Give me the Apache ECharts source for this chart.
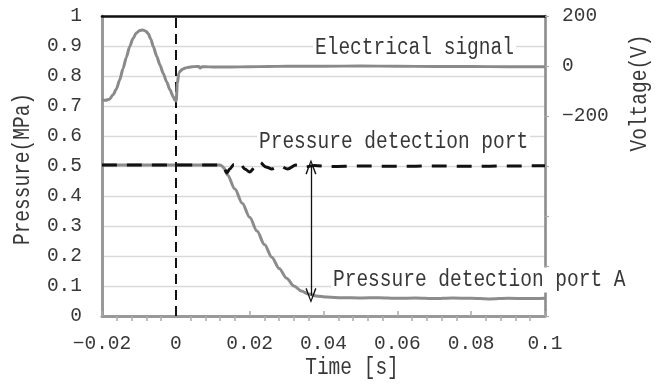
<!DOCTYPE html>
<html><head><meta charset="utf-8">
<script src="https://cdn.jsdelivr.net/npm/echarts@6/dist/echarts.min.js"></script>
<style>html,body{margin:0;padding:0;background:#fff}#c{width:659px;height:385px}</style>
</head><body><div id="c"></div>
<script>
// ---- data (time in s) ----
const tSignal = [-0.0200,-0.0190,-0.0180,-0.0170,-0.0161,-0.0152,-0.0143,-0.0134,-0.0125,-0.0116,-0.0107,-0.0098,-0.0090,-0.0082,-0.0075,-0.0068,-0.0061,-0.0052,-0.0043,-0.0034,-0.0025,-0.0016,-0.0007,-0.0002,0.0001,0.0004,0.0008,0.0012,0.0018,0.0026,0.0035,0.0045,0.0055,0.0062,0.0066,0.0071,0.0080,0.0100,0.0150,0.0200,0.0250,0.0300,0.0400,0.0500,0.0600,0.0700,0.0800,0.0900,0.1000];
const vSignal = [-136,-137,-133,-115,-92,-55,-10,35,78,110,132,142,144,140,130,108,78,40,4,-30,-63,-95,-123,-138,-140,-70,-30,-20,-13,-8,-5,-3,-2,-2,-8,-3,-3,-4,-4,-3,-2,-1,-1,0,-1,-2,-2,-3,-3];

const tPort = [-0.0200,0.0119,0.0130,0.0138,0.0146,0.0157,0.0173,0.0187,0.0200,0.0214,0.0228,0.0244,0.0260,0.0282,0.0303,0.0325,0.0350,0.0376,0.0417,0.0500,0.0600,0.0700,0.0800,0.0900,0.1000];
const pPort = [0.503,0.503,0.495,0.477,0.490,0.505,0.510,0.490,0.480,0.495,0.512,0.497,0.490,0.500,0.490,0.503,0.497,0.502,0.498,0.500,0.499,0.500,0.499,0.500,0.501];

const tPortA = [-0.0200,0.0120,0.0125,0.0130,0.0140,0.0160,0.0180,0.0200,0.0220,0.0240,0.0260,0.0280,0.0300,0.0320,0.0340,0.0360,0.0380,0.0410,0.0450,0.0500,0.0550,0.0600,0.0650,0.0700,0.0750,0.0800,0.0850,0.0900,0.0950,0.1000];
const pPortA = [0.503,0.503,0.500,0.493,0.470,0.423,0.376,0.329,0.283,0.238,0.196,0.158,0.126,0.100,0.083,0.073,0.067,0.063,0.061,0.060,0.061,0.059,0.060,0.058,0.060,0.059,0.057,0.059,0.058,0.059];

const arrowT = [0.0366];
const arrowP = [0.497, 0.068];

const xTickValues = [-0.02, 0, 0.02, 0.04, 0.06, 0.08, 0.1];
const leftTickValues = [0, 0.1, 0.2, 0.3, 0.4, 0.5, 0.6, 0.7, 0.8, 0.9, 1];
const rightLabelValues = [200, 0, -200];

const labels = {
  signal: 'Electrical signal',
  port: 'Pressure detection port',
  portA: 'Pressure detection port A',
  yLeft: 'Pressure(MPa)',
  yRight: 'Voltage(V)',
  x: 'Time [s]'
};

// ---- chart ----
const FONT = '"Liberation Mono", "DejaVu Sans Mono", monospace';
const FS = 19.5;
const TXT = '#383838';
const SY = 1.25;
const zip = (a, b) => a.map((v, i) => [v, b[i]]);
const minus = s => s.replace('-', '\u2212');

const chart = echarts.init(document.getElementById('c'), null, {renderer: 'canvas'});
const chevron = 'path://M5,0 L10,14 L8.8,14.6 L5,3.2 L1.2,14.6 L0,14 Z';

const option = {
  animation: false,
  backgroundColor: '#fff',
  grid: {left: 102, right: 114, top: 16, bottom: 69, containLabel: false, outerBoundsMode: 'none'},
  xAxis: [
    {
      type: 'value', min: xTickValues[0], max: xTickValues[xTickValues.length - 1], interval: 0.02,
      position: 'bottom',
      axisLine: {show: true, onZero: false, lineStyle: {color: '#999', width: 3}},
      axisTick: {show: true, inside: true, length: 5, lineStyle: {color: '#aaa', width: 1.5}},
      axisLabel: {
        fontFamily: FONT, fontSize: FS, color: TXT, margin: 18,
        formatter: v => { const r = +(+v).toFixed(2); return r === 0 ? '0' : minus(String(r)); }
      },
      splitLine: {show: false}
    },
    {
      type: 'value', min: xTickValues[0], max: xTickValues[xTickValues.length - 1], interval: 0.02,
      position: 'bottom',
      axisLine: {show: false, onZero: false}, axisTick: {show: false}, axisLabel: {show: false},
      splitLine: {show: false},
      minorTick: {show: true, splitNumber: 5, length: 5, lineStyle: {color: '#aaa', width: 1.5}}
    },
    {
      type: 'value', min: xTickValues[0], max: xTickValues[xTickValues.length - 1],
      position: 'top',
      axisLine: {show: true, onZero: false, lineStyle: {color: '#111', width: 2.6}},
      axisTick: {show: false}, axisLabel: {show: false}, splitLine: {show: false}
    }
  ],
  yAxis: [
    {
      type: 'value', min: leftTickValues[0], max: leftTickValues[leftTickValues.length - 1], interval: 0.1,
      position: 'left',
      axisLine: {show: true, onZero: false, lineStyle: {color: '#999', width: 3}},
      axisTick: {show: false},
      splitLine: {show: true, lineStyle: {color: '#d9d9d9', width: 1.4}},
      axisLabel: {
        fontFamily: FONT, fontSize: FS, color: TXT, margin: 20,
        formatter: v => { const r = +(+v).toFixed(1); return (r === 0 || r === 1) ? String(r) : r.toFixed(1); }
      }
    },
    {
      type: 'value', min: -1000, max: 200, interval: 200,
      position: 'right',
      axisLine: {show: true, onZero: false, lineStyle: {color: '#8c8c8c', width: 2.6}},
      axisTick: {show: true, length: 4, lineStyle: {color: '#aaa', width: 1.2}},
      splitLine: {show: false},
      axisLabel: {
        fontFamily: FONT, fontSize: FS, color: TXT, margin: 17,
        formatter: v => rightLabelValues.indexOf(Math.round(v)) >= 0 ? minus(String(Math.round(v))) : ''
      }
    }
  ],
  series: [
    {
      name: labels.portA, type: 'line', xAxisIndex: 0, yAxisIndex: 0,
      data: zip(tPortA, pPortA), showSymbol: false, symbol: 'none', smooth: 0.3, smoothMonotone: 'x',
      lineStyle: {color: '#8c8c8c', width: 3}, z: 3,
      markLine: {
        silent: true, symbol: ['none', 'none'], label: {show: false},
        lineStyle: {color: '#111', width: 2, type: [10, 6]},
        data: [{xAxis: 0}]
      }
    },
    {
      name: labels.port, type: 'line', xAxisIndex: 0, yAxisIndex: 0,
      data: zip(tPort, pPort), showSymbol: false, symbol: 'none', smooth: 0.3, smoothMonotone: 'x',
      lineStyle: {color: '#111', width: 3, type: [15, 10]}, z: 4,
      markLine: {
        silent: true, symbol: [chevron, chevron], symbolSize: [11, 15], label: {show: false},
        lineStyle: {color: '#111', width: 1.3, type: 'solid'},
        data: [[{coord: [arrowT[0], arrowP[0]]}, {coord: [arrowT[0], arrowP[1]]}]]
      }
    },
    {
      name: labels.signal, type: 'line', xAxisIndex: 0, yAxisIndex: 1,
      data: zip(tSignal, vSignal), showSymbol: false, symbol: 'none', smooth: 0.25, smoothMonotone: 'x',
      lineStyle: {color: '#8a8a8a', width: 3}, z: 5
    }
  ],
  graphic: [
    {type: 'text', x: 313, y: 48, scaleY: SY, z: 100, style: {text: labels.signal, font: FS + 'px ' + FONT, fill: TXT, backgroundColor: '#fff', padding: [0, 2], align: 'left', verticalAlign: 'middle'}},
    {type: 'text', x: 257, y: 142, scaleY: SY, z: 100, style: {text: labels.port, font: FS + 'px ' + FONT, fill: TXT, backgroundColor: '#fff', padding: [0, 2], align: 'left', verticalAlign: 'middle'}},
    {type: 'text', x: 331, y: 280, scaleY: SY, z: 100, style: {text: labels.portA, font: FS + 'px ' + FONT, fill: TXT, backgroundColor: '#fff', padding: [0, 2], align: 'left', verticalAlign: 'middle'}},
    {type: 'text', x: 23, y: 169, rotation: Math.PI / 2, scaleY: SY, z: 100, style: {text: labels.yLeft, font: FS + 'px ' + FONT, fill: TXT, align: 'center', verticalAlign: 'middle'}},
    {type: 'text', x: 640, y: 93, rotation: Math.PI / 2, scaleY: SY, z: 100, style: {text: labels.yRight, font: FS + 'px ' + FONT, fill: TXT, align: 'center', verticalAlign: 'middle'}},
    {type: 'text', x: 352, y: 368, scaleY: SY, z: 100, style: {text: labels.x, font: FS + 'px ' + FONT, fill: TXT, align: 'center', verticalAlign: 'middle'}}
  ]
};
chart.setOption(option);
</script>
</body></html>
